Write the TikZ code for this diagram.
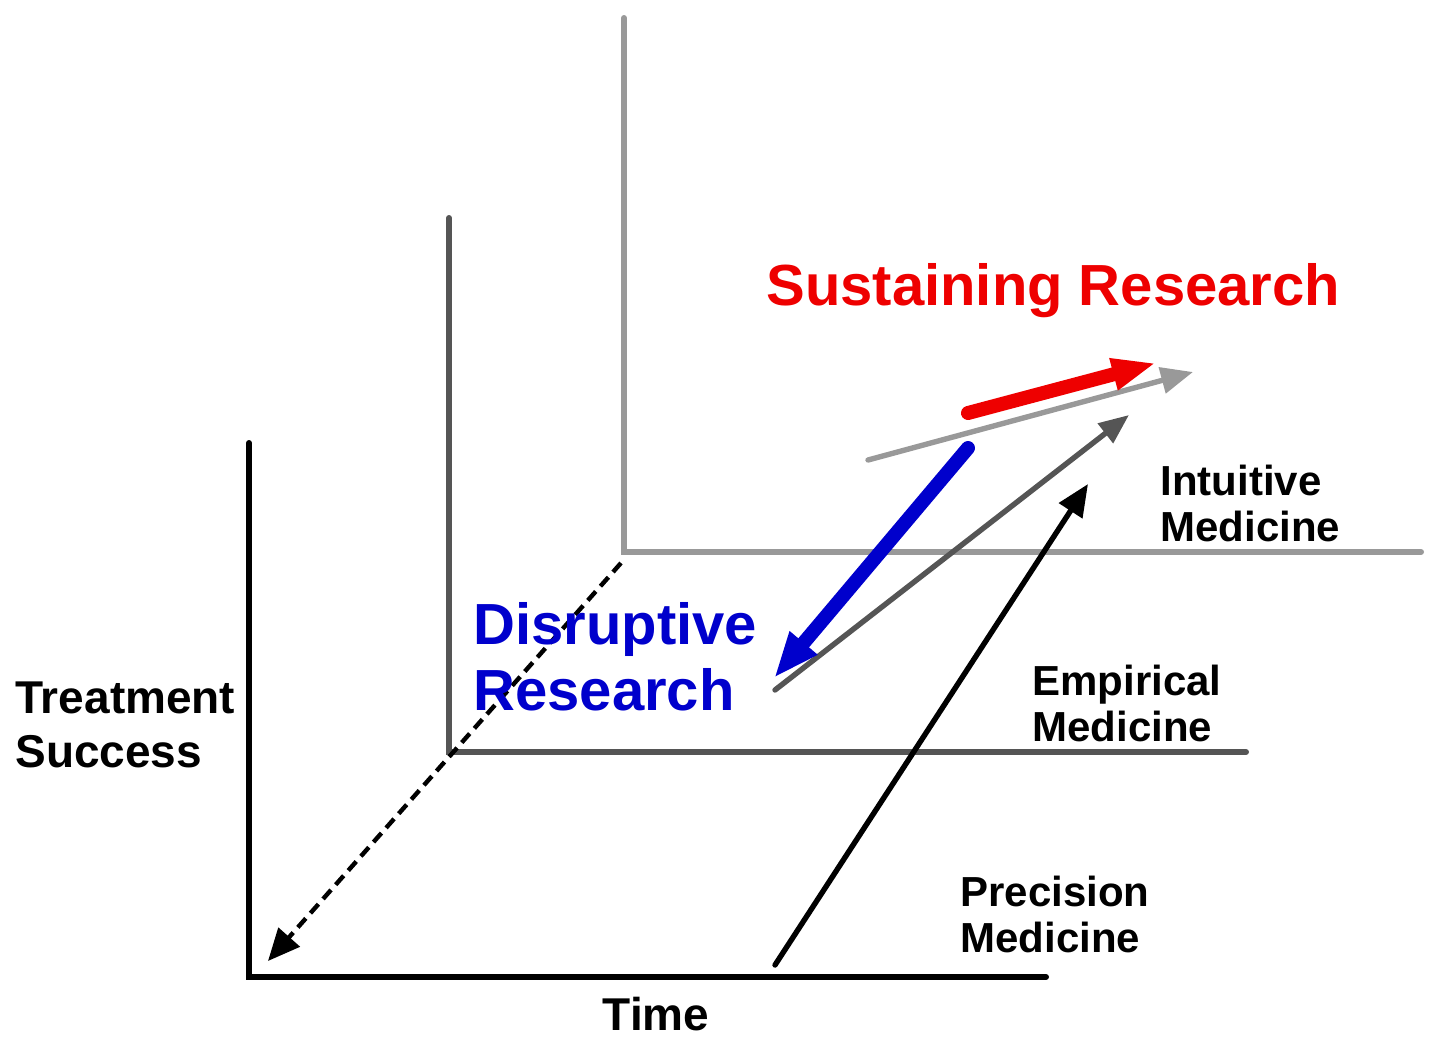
\documentclass[tikz,border=0pt]{standalone}
\usepackage{fontspec}
\setmainfont{Liberation Sans}
\usetikzlibrary{arrows.meta}
\definecolor{darkframe}{HTML}{555555}
\definecolor{lightframe}{HTML}{999999}
\definecolor{sustred}{HTML}{EE0000}
\definecolor{disrblue}{HTML}{0000CC}
\tikzset{
 frame/.style
  = {line width=3pt, line cap=round, line join=miter},
 thin/.style
  = {line width=2.7pt, line cap=round},
 fat/.style
  = {line width=7pt, line cap=round},
 lbl/.style
  = {anchor=base west, inner sep=0pt, align=left,
     font=\fontsize{21}{23}\selectfont\bfseries},
 big/.style
  = {anchor=base west, inner sep=0pt, align=left,
     font=\fontsize{29}{33}\selectfont\bfseries},
}

\begin{document}
\begin{tikzpicture}[x=0.5pt, y=-0.5pt]

\useasboundingbox (0,0) rectangle (1440,1055);

% Back frame
\coordinate (bt) at (624,18);
\coordinate (bo) at (624,552);
\coordinate (br) at (1421,552);
\draw[frame, lightframe] (bt) -- (bo) -- (br);

% Middle frame
\coordinate (mt) at (449,218);
\coordinate (mo) at (449,752);
\coordinate (mr) at (1246,752);
\draw[frame, darkframe] (mt) -- (mo) -- (mr);

% Front frame
\coordinate (ft) at (249,443);
\coordinate (fo) at (249,977);
\coordinate (fr) at (1046,977);
\draw[frame, black] (ft) -- (fo) -- (fr);

% Depth axis
\coordinate (d0) at (621,563);
\coordinate (d1) at (268,961);
\draw[line width=2.2pt, dash pattern=on 6pt off 3.5pt,
      -{Triangle[length=16pt, width=14pt]}] (d0) -- (d1);

% Precision to Intuitive
\coordinate (p0) at (775,965);
\coordinate (p1) at (1088,484);
\draw[thin, black, -{Triangle[length=16pt, width=13.5pt]}] (p0) -- (p1);

% Empirical to Intuitive
\coordinate (e0) at (775,690);
\coordinate (e1) at (1129,415);
\draw[thin, darkframe, -{Triangle[length=15pt, width=12pt]}] (e0) -- (e1);

% Intuitive
\coordinate (i0) at (868,460);
\coordinate (i1) at (1193,372);
\draw[thin, lightframe, -{Triangle[length=16pt, width=13pt]}] (i0) -- (i1);

% Sustaining arrow
\coordinate (s0) at (968,413);
\coordinate (s1) at (1156,363);
\draw[fat, sustred, -{Triangle[length=22pt, width=15pt]}] (s0) -- (s1);

% Disruptive arrow
\coordinate (r0) at (968,448);
\coordinate (r1) at (774,678);
\draw[fat, disrblue, -{Triangle[length=23pt, width=16.5pt]}] (r0) -- (r1);

% Labels
\node[big, sustred] (sust) at (766,305) {Sustaining Research};
\node[big, disrblue] (disr) at (473,710) {Disruptive\\Research};
\node[lbl, font=\fontsize{23}{27}\selectfont\bfseries] (succ) at (15,767) {Treatment\\Success};
\node[lbl, font=\fontsize{23}{27}\selectfont\bfseries, anchor=base] (time) at (656,1030) {Time};
\node[lbl] (intu) at (1160,541) {Intuitive\\Medicine};
\node[lbl] (empi) at (1032,741) {Empirical\\Medicine};
\node[lbl] (prec) at (960,952) {Precision\\Medicine};

\end{tikzpicture}
\end{document}
